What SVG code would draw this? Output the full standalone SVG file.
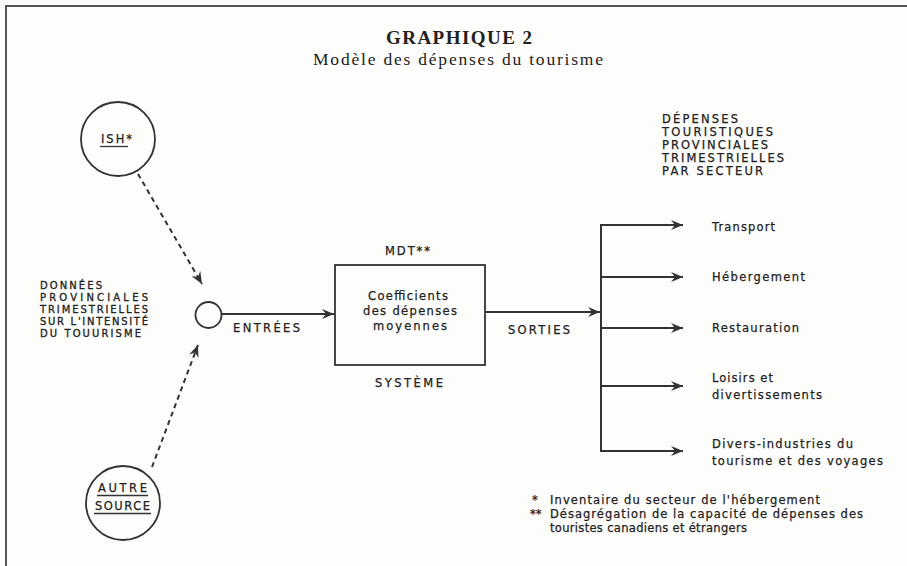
<svg xmlns="http://www.w3.org/2000/svg" width="907" height="566" viewBox="0 0 907 566">
<style>
.bg{fill:#fdfdfb}
.frame{stroke:#555;stroke-width:2;fill:none}
.t{font-family:"DejaVu Sans","Liberation Sans",sans-serif;font-size:11.5px;fill:#222;stroke:#222;stroke-width:0.25}
.s{font-family:"DejaVu Sans","Liberation Sans",sans-serif;font-size:10px;fill:#222;stroke:#222;stroke-width:0.3}
.h{font-family:"DejaVu Sans","Liberation Sans",sans-serif;font-size:11.5px;fill:#222;stroke:#222;stroke-width:0.25}
.serif{font-family:"Liberation Serif","Times New Roman",serif;fill:#222}
.shape{fill:none;stroke:#333;stroke-width:1.8}
.ln{fill:none;stroke:#333;stroke-width:2}
.dash{fill:none;stroke:#333;stroke-width:2;stroke-dasharray:5 4}
.ul{stroke:#333;stroke-width:1.3}
</style>
<defs>
<marker id="ah" viewBox="0 0 12 10" refX="12" refY="5" markerWidth="12" markerHeight="10" markerUnits="userSpaceOnUse" orient="auto">
<path d="M0,0 L12,5 L0,10 L4,5 Z" fill="#333"/>
</marker>
</defs>
<rect class="bg" x="0" y="0" width="907" height="566"/>
<path class="frame" d="M6,566 V6 H907"/>
<g id="title">
<text class="serif" x="386" y="44" font-size="19" font-weight="bold" textLength="146" lengthAdjust="spacing">GRAPHIQUE 2</text>
<text class="serif" x="313" y="65" font-size="17.5" textLength="290" lengthAdjust="spacing">Modèle des dépenses du tourisme</text>
</g>
<g id="connectors">
<line class="dash" x1="138" y1="174" x2="202" y2="284" marker-end="url(#ah)"/>
<line class="dash" x1="152" y1="467" x2="198" y2="345" marker-end="url(#ah)"/>
<line class="ln" x1="222" y1="314" x2="334" y2="314" marker-end="url(#ah)"/>
<line class="ln" x1="485" y1="312" x2="600" y2="312" marker-end="url(#ah)"/>
<line class="ln" x1="601" y1="224" x2="601" y2="452"/>
<line class="ln" x1="600" y1="225" x2="683" y2="225" marker-end="url(#ah)"/>
<line class="ln" x1="601" y1="277" x2="683" y2="277" marker-end="url(#ah)"/>
<line class="ln" x1="601" y1="328" x2="683" y2="328" marker-end="url(#ah)"/>
<line class="ln" x1="601" y1="386" x2="683" y2="386" marker-end="url(#ah)"/>
<line class="ln" x1="600" y1="451" x2="683" y2="451" marker-end="url(#ah)"/>
</g>
<g id="ish">
<circle class="shape" cx="118" cy="139" r="37"/>
<text class="t" x="101" y="143" textLength="31" lengthAdjust="spacing">ISH*</text>
<line class="ul" x1="100" y1="146.5" x2="128" y2="146.5"/>
</g>
<g id="autre-source">
<circle class="shape" cx="123" cy="503" r="37"/>
<text class="t" x="98" y="492" textLength="49" lengthAdjust="spacing">AUTRE</text>
<line class="ul" x1="97" y1="495.5" x2="148" y2="495.5"/>
<text class="t" x="95" y="510" textLength="55" lengthAdjust="spacing">SOURCE</text>
<line class="ul" x1="94" y1="513.5" x2="151" y2="513.5"/>
</g>
<g id="donnees">
<text class="s" x="40" y="289" textLength="62" lengthAdjust="spacing">DONNÉES</text>
<text class="s" x="40" y="301" textLength="108" lengthAdjust="spacing">PROVINCIALES</text>
<text class="s" x="40" y="313" textLength="108" lengthAdjust="spacing">TRIMESTRIELLES</text>
<text class="s" x="40" y="325" textLength="108" lengthAdjust="spacing">SUR L'INTENSITÉ</text>
<text class="s" x="40" y="337" textLength="101" lengthAdjust="spacing">DU TOUURISME</text>
</g>
<g id="jonction">
<circle class="shape" cx="208.5" cy="315" r="13"/>
</g>
<g id="labels-flux">
<text class="t" x="233" y="332" textLength="67" lengthAdjust="spacing">ENTRÉES</text>
<text class="t" x="508" y="334" textLength="62" lengthAdjust="spacing">SORTIES</text>
</g>
<g id="systeme">
<text class="t" x="385" y="255" textLength="45" lengthAdjust="spacing">MDT**</text>
<rect class="shape" x="335" y="265" width="150" height="100"/>
<text class="t" x="368" y="300" textLength="80" lengthAdjust="spacing">Coefficients</text>
<text class="t" x="363" y="315" textLength="94" lengthAdjust="spacing">des dépenses</text>
<text class="t" x="373" y="330" textLength="74" lengthAdjust="spacing">moyennes</text>
<text class="t" x="375" y="387" textLength="68" lengthAdjust="spacing">SYSTÈME</text>
</g>
<g id="depenses">
<text class="h" x="662" y="123" textLength="76" lengthAdjust="spacing">DÉPENSES</text>
<text class="h" x="662" y="136" textLength="111" lengthAdjust="spacing">TOURISTIQUES</text>
<text class="h" x="662" y="149" textLength="106" lengthAdjust="spacing">PROVINCIALES</text>
<text class="h" x="662" y="162" textLength="122" lengthAdjust="spacing">TRIMESTRIELLES</text>
<text class="h" x="662" y="175" textLength="101" lengthAdjust="spacing">PAR SECTEUR</text>
</g>
<g id="transport"><text class="t" x="712" y="231" textLength="63" lengthAdjust="spacing">Transport</text></g>
<g id="hebergement"><text class="t" x="712" y="281" textLength="93" lengthAdjust="spacing">Hébergement</text></g>
<g id="restauration"><text class="t" x="712" y="332" textLength="87" lengthAdjust="spacing">Restauration</text></g>
<g id="loisirs">
<text class="t" x="712" y="382" textLength="61" lengthAdjust="spacing">Loisirs et</text>
<text class="t" x="712" y="399" textLength="110" lengthAdjust="spacing">divertissements</text>
</g>
<g id="divers">
<text class="t" x="712" y="448" textLength="141" lengthAdjust="spacing">Divers-industries du</text>
<text class="t" x="712" y="465" textLength="171" lengthAdjust="spacing">tourisme et des voyages</text>
</g>
<g id="notes">
<text class="t" x="532" y="504">*</text>
<text class="t" x="550" y="504" textLength="270" lengthAdjust="spacing">Inventaire du secteur de l'hébergement</text>
<text class="t" x="530" y="518">**</text>
<text class="t" x="550" y="518" textLength="313" lengthAdjust="spacing">Désagrégation de la capacité de dépenses des</text>
<text class="t" x="550" y="532" textLength="197" lengthAdjust="spacing">touristes canadiens et étrangers</text>
</g>
</svg>
